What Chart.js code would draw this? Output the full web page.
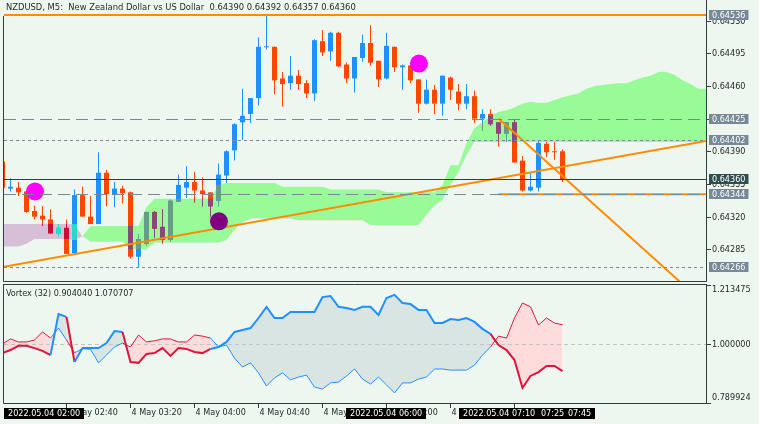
<!DOCTYPE html>
<html><head><meta charset="utf-8">
<script src="https://cdn.jsdelivr.net/npm/chart.js@4.4.0/dist/chart.umd.min.js"></script>
<style>
html,body{margin:0;padding:0;background:#EEF7EF;overflow:hidden;}
#wrap{position:relative;width:759px;height:424px;background:#EEF7EF;}
canvas{position:absolute;left:0;background:#EEF7EF;}
#c1{top:0;}
#c2{top:282px;}
</style></head><body>
<div id="wrap"><canvas id="c1" width="759" height="282"></canvas><canvas id="c2" width="759" height="142"></canvas></div>
<script>
// ---------------- data ----------------
const openP  = [0.64379,0.64350,0.64351,0.64347,0.64326,0.64321,0.64317,0.64302,0.64308,0.64281,
                0.64343,0.64320,0.64312,0.64367,0.64344,0.64350,0.64346,0.64277,0.64291,0.64325,
                0.64309,0.64295,0.64336,0.64351,0.64357,0.64348,0.64346,0.64337,0.64364,0.64391,
                0.64421,0.64430,0.64447,0.64502,0.64502,0.64468,0.64463,0.64471,0.64463,0.64452,
                0.64508,0.64497,0.64517,0.64483,0.64468,0.64490,0.64506,0.64487,0.64468,0.64502,
                0.64480,0.64482,0.64467,0.64441,0.64456,0.64441,0.64469,0.64454,0.64441,0.64449,
                0.64425,0.64430,0.64421,0.64409,0.64421,0.64380,0.64348,0.64351,0.64398,0.64390,
                0.64390];
const highP  = [0.64380,0.64361,0.64357,0.64348,0.64332,0.64331,0.64328,0.64312,0.64317,0.64349,
                0.64352,0.64342,0.64389,0.64370,0.64357,0.64353,0.64347,0.64301,0.64325,0.64326,
                0.64328,0.64338,0.64365,0.64374,0.64368,0.64362,0.64346,0.64377,0.64391,0.64420,
                0.64457,0.64447,0.64512,0.64536,0.64502,0.64475,0.64492,0.64477,0.64466,0.64510,
                0.64520,0.64518,0.64518,0.64485,0.64491,0.64515,0.64525,0.64487,0.64517,0.64502,
                0.64483,0.64483,0.64467,0.64467,0.64461,0.64471,0.64470,0.64462,0.64462,0.64455,
                0.64435,0.64435,0.64421,0.64421,0.64424,0.64385,0.64368,0.64402,0.64400,0.64400,
                0.64392];
const lowP   = [0.64350,0.64347,0.64342,0.64324,0.64317,0.64310,0.64302,0.64299,0.64280,0.64280,
                0.64320,0.64312,0.64312,0.64331,0.64330,0.64334,0.64275,0.64266,0.64289,0.64297,
                0.64291,0.64293,0.64336,0.64340,0.64335,0.64331,0.64320,0.64331,0.64356,0.64380,
                0.64402,0.64420,0.64439,0.64499,0.64451,0.64438,0.64456,0.64456,0.64447,0.64444,
                0.64492,0.64487,0.64480,0.64463,0.64453,0.64486,0.64482,0.64459,0.64467,0.64475,
                0.64456,0.64463,0.64431,0.64440,0.64430,0.64428,0.64445,0.64434,0.64435,0.64420,
                0.64412,0.64417,0.64395,0.64400,0.64378,0.64347,0.64347,0.64347,0.64384,0.64381,
                0.64357];
const closeP = [0.64351,0.64352,0.64346,0.64325,0.64320,0.64317,0.64302,0.64308,0.64280,0.64343,
                0.64320,0.64312,0.64367,0.64344,0.64350,0.64345,0.64277,0.64296,0.64325,0.64307,
                0.64295,0.64337,0.64354,0.64357,0.64348,0.64344,0.64331,0.64365,0.64390,0.64419,
                0.64428,0.64447,0.64502,0.64502,0.64466,0.64462,0.64471,0.64462,0.64452,0.64509,
                0.64496,0.64517,0.64481,0.64468,0.64491,0.64506,0.64485,0.64467,0.64503,0.64480,
                0.64482,0.64466,0.64441,0.64456,0.64441,0.64471,0.64456,0.64441,0.64449,0.64425,
                0.64430,0.64419,0.64409,0.64421,0.64378,0.64348,0.64352,0.64399,0.64389,0.64389,
                0.64360];
// Ichimoku cloud spans (shifted forward, bars 0..88)
const spanA = [0.64288,0.64288,0.64288,0.64291,0.64296,0.64296,0.64296,0.64296,0.64296,0.64295,
               0.64299,0.64310,0.64310,0.64310,0.64310,0.64310,0.64310,0.64310,0.64330,0.64339,
               0.64339,0.64339,0.64339,0.64339,0.64339,0.64339,0.64339,0.64354,0.64356,0.64356,
               0.64356,0.64356,0.64356,0.64356,0.64356,0.64352,0.64352,0.64352,0.64352,0.64352,
               0.64352,0.64349,0.64349,0.64349,0.64349,0.64349,0.64349,0.64349,0.64346,0.64346,
               0.64346,0.64346,0.64346,0.64346,0.64346,0.64354,0.64375,0.64375,0.64399,0.64415,
               0.64421,0.64428,0.64432,0.64434,0.64437,0.64441,0.64443,0.64442,0.64442,0.64445,
               0.64448,0.64450,0.64452,0.64457,0.64460,0.64461,0.64462,0.64463,0.64463,0.64466,
               0.64469,0.64471,0.64475,0.64475,0.64472,0.64466,0.64462,0.64457,0.64457];
const spanB = [0.64312,0.64312,0.64312,0.64312,0.64312,0.64312,0.64312,0.64312,0.64312,0.64312,
               0.64299,0.64293,0.64293,0.64293,0.64293,0.64293,0.64285,0.64285,0.64285,0.64292,
               0.64292,0.64292,0.64292,0.64292,0.64292,0.64292,0.64292,0.64292,0.64295,0.64306,
               0.64314,0.64318,0.64318,0.64318,0.64318,0.64318,0.64318,0.64316,0.64316,0.64316,
               0.64316,0.64316,0.64316,0.64316,0.64316,0.64316,0.64311,0.64311,0.64311,0.64311,
               0.64311,0.64311,0.64311,0.64322,0.64332,0.64338,0.64354,0.64368,0.64386,0.64400,
               0.64400,0.64400,0.64400,0.64400,0.64400,0.64400,0.64400,0.64400,0.64400,0.64400,
               0.64400,0.64400,0.64400,0.64400,0.64400,0.64400,0.64400,0.64400,0.64400,0.64400,
               0.64400,0.64400,0.64400,0.64400,0.64400,0.64400,0.64400,0.64400,0.64400];
// Vortex (32): thick line and thin line
const vortexThick = [0.969,0.980,0.995,0.995,0.987,0.977,0.962,1.109,1.099,0.937,
                     0.987,0.987,0.987,1.005,1.048,1.045,0.937,0.934,0.966,0.969,
                     0.987,0.959,0.987,0.984,0.973,0.969,0.984,0.991,1.009,1.045,
                     1.052,1.059,1.095,1.135,1.095,1.095,1.117,1.117,1.117,1.117,
                     1.170,1.174,1.135,1.131,1.124,1.135,1.135,1.106,1.167,1.178,
                     1.149,1.145,1.124,1.124,1.077,1.077,1.091,1.088,1.095,1.081,
                     1.056,1.038,0.998,0.980,0.944,0.844,0.887,0.901,0.923,0.923,
                     0.904040];
const vortexThin  = [1.002,1.020,1.009,1.009,1.016,1.045,1.023,1.059,1.016,0.970,
                     0.985,0.983,0.934,0.962,0.991,1.005,0.991,1.034,1.009,1.013,
                     1.020,1.020,1.009,1.009,1.034,1.030,1.023,0.991,0.998,0.951,
                     0.919,0.934,0.898,0.851,0.880,0.898,0.873,0.883,0.890,0.847,
                     0.840,0.862,0.865,0.887,0.912,0.876,0.858,0.883,0.855,0.826,
                     0.862,0.862,0.876,0.883,0.912,0.912,0.908,0.908,0.908,0.926,
                     0.962,0.991,1.030,1.023,1.095,1.149,1.135,1.070,1.095,1.077,
                     1.070707];
const priceTicks   = [0.64530,0.64495,0.64460,0.64425,0.64390,0.64355,0.64320,0.64285];
const levelPrices  = [0.64536,0.64425,0.64402,0.64360,0.64344,0.64266];
const trendUp      = [[0,0.64266],[88,0.64401]];
const trendDown    = [[62,0.64425],[86,0.64240]];
const rayLevel     = [[62,0.64344],[88,0.64344]];
const magentaMarks = [[4.06,0.64347],[52.06,0.64484]];
const purpleMarks  = [[27.06,0.64315]];
const vortexTicks  = [1.213475,1.000000,0.789924];
const vortexLevel  = 1.0;
const timeTickBars   = [8,16,24,32,40,48,56,64];
const timeTickLabels = ['4 May 02:40','4 May 03:20','4 May 04:00','4 May 04:40','4 May 05:20','4 May 06:00','4 May 06:40','4 May 07:20'];
const timeBoxBars    = [0,48,69,65.7,62];
const timeBoxLabels  = ['2022.05.04 02:00','2022.05.04 06:00','2022.05.04 07:45','2022.05.04 07:25','2022.05.04 07:10'];
const titleText   = 'NZDUSD, M5:  New Zealand Dollar vs US Dollar  0.64390 0.64392 0.64357 0.64360';
const vortexTitle = 'Vortex (32) 0.904040 1.070707';

// ---------------- styles ----------------
const BG='#EEF7EF';
const FRAME='#2F3F3F', TXT='#1E2424', ORANGE='#FF8C00', GRAY='#778899';
const BULL='#1E90FF', BEAR='#FF4500', VBLUE='#1E90FF', VRED='#DC143C';
const CLOUD_UP='#98FB98', CLOUD_DN='#D8BFD8';
const FAM='"DejaVu Sans Condensed", "Liberation Sans", Arial, sans-serif';
const FONT='9px '+FAM;
const TFONT='9.3px '+FAM;
const levelStyles=[
  {color:ORANGE,width:2,dash:[]},
  {color:GRAY,width:1,dash:[12,6]},
  {color:GRAY,width:1,dash:[3,3]},
  {color:FRAME,width:1,dash:[]},
  {color:GRAY,width:1,dash:[12,6]},
  {color:GRAY,width:1,dash:[3,3]}];
const levelBox=['#778899','#778899','#778899','#2F4F4F','#778899','#778899'];
const XMIN=0.1875, XMAX=87.9375;
const YMIN=0.642510, YMAX=0.645521;
const onePx=(YMAX-YMIN)/281;

const rgb = h => [1,3,5].map(k=>parseInt(h.slice(k,k+2),16));
// the cloud is painted in XOR mode over the candles, like the terminal does
const xorCol = (c,cl) => { const a=rgb(c),b=rgb(cl),g=rgb(BG); return 'rgb('+(a[0]^b[0]^g[0])+','+(a[1]^b[1]^g[1])+','+(a[2]^b[2]^g[2])+')'; };
const baseCol = i => closeP[i]>=openP[i]?BULL:BEAR;
const cloudCol = i => spanA[i]>=spanB[i]?CLOUD_UP:CLOUD_DN;
const inCloud = (lo,hi,i) => { const l=Math.max(lo,Math.min(spanA[i],spanB[i])), h=Math.min(hi,Math.max(spanA[i],spanB[i])); return h>l?[l,h]:null; };

const bodyRange = i => { const o=openP[i],c=closeP[i]; let lo=Math.min(o,c), hi=Math.max(o,c);
  if(hi-lo<onePx){const m=(hi+lo)/2; lo=m-onePx/2; hi=m+onePx/2;} return [lo,hi]; };
const wickData = lowP.map((l,i)=>({x:i,y:[l,highP[i]]}));
const bodyData = openP.map((o,i)=>({x:i,y:bodyRange(i)}));
const wickInData = lowP.map((l,i)=>({x:i,y:inCloud(l,highP[i],i)}));
const bodyInData = openP.map((o,i)=>{const r=bodyRange(i);return {x:i,y:inCloud(r[0],r[1],i)};});
const candleColor = ctx => baseCol(ctx.dataIndex);
const candleInColor = ctx => xorCol(baseCol(ctx.dataIndex), cloudCol(ctx.dataIndex));
const pts = arr => arr.map(p=>({x:p[0],y:p[1]}));

const topDecor={
  id:'topDecor',
  afterDatasetsDraw(chart){
    const {ctx,chartArea:a,scales:{y}}=chart;
    ctx.save();
    ctx.beginPath();ctx.rect(a.left,a.top,a.right-a.left,a.bottom-a.top);ctx.clip();
    levelPrices.forEach((p,i)=>{
      const st=levelStyles[i];
      const py=Math.round(y.getPixelForValue(p))+(st.width%2?0.5:0);
      ctx.strokeStyle=st.color;ctx.lineWidth=st.width;ctx.setLineDash(st.dash);
      ctx.beginPath();ctx.moveTo(a.left,py);ctx.lineTo(a.right,py);ctx.stroke();
    });
    ctx.restore();
  },
  afterDraw(chart){
    const {ctx,chartArea:a,scales:{y}}=chart;
    ctx.save();
    ctx.strokeStyle=FRAME;ctx.lineWidth=1;ctx.setLineDash([]);
    ctx.beginPath();
    ctx.moveTo(a.left-0.5,16);ctx.lineTo(a.left-0.5,a.bottom+0.5);
    ctx.lineTo(a.right+0.5,a.bottom+0.5);ctx.lineTo(a.right+0.5,0);
    ctx.stroke();
    ctx.font=FONT;ctx.textBaseline='middle';ctx.textAlign='left';
    priceTicks.forEach(p=>{
      const py=Math.round(y.getPixelForValue(p))+0.5;
      ctx.beginPath();ctx.moveTo(a.right,py);ctx.lineTo(a.right+5,py);ctx.stroke();
      ctx.fillStyle=TXT;ctx.fillText(p.toFixed(5),a.right+6,py);
    });
    levelPrices.forEach((p,i)=>{
      const py=Math.round(y.getPixelForValue(p));
      const t=p.toFixed(5);const w=ctx.measureText(t).width+6;
      ctx.fillStyle=levelBox[i];ctx.fillRect(a.right+3,py-5,w,10);
      ctx.fillStyle='#FFFFFF';ctx.fillText(t,a.right+6,py+0.5);
    });
    ctx.font=TFONT;
    ctx.fillStyle=TXT;ctx.fillText(titleText,6,8);
    ctx.restore();
  }
};

const vortexDecor={
  id:'vortexDecor',
  beforeDatasetsDraw(chart){
    const {ctx,chartArea:a,scales:{y}}=chart;
    const py=Math.round(y.getPixelForValue(vortexLevel))+0.5;
    ctx.save();ctx.strokeStyle='#C4C4C4';ctx.lineWidth=1;ctx.setLineDash([4,3]);
    ctx.beginPath();ctx.moveTo(a.left,py);ctx.lineTo(a.right,py);ctx.stroke();ctx.restore();
  },
  afterDraw(chart){
    const {ctx,chartArea:a,scales:{x,y}}=chart;
    ctx.save();
    ctx.strokeStyle=FRAME;ctx.lineWidth=1;ctx.setLineDash([]);
    ctx.beginPath();
    ctx.moveTo(a.left-1,a.top-0.5);ctx.lineTo(a.right+0.5,a.top-0.5);
    ctx.moveTo(a.left-0.5,a.top-0.5);ctx.lineTo(a.left-0.5,a.bottom+0.5);ctx.lineTo(a.right+0.5,a.bottom+0.5);
    ctx.moveTo(a.right+0.5,a.top-1);ctx.lineTo(a.right+0.5,a.bottom+1);
    ctx.stroke();
    ctx.font=FONT;ctx.textBaseline='middle';ctx.textAlign='left';ctx.fillStyle=TXT;
    vortexTicks.forEach(v=>{
      const pyr=y.getPixelForValue(v);
      const py=Math.round(pyr)+0.5;
      ctx.beginPath();ctx.moveTo(a.right,py);ctx.lineTo(a.right+5,py);ctx.stroke();
      let ty=py; if(pyr<a.top+6) ty=py+4.5; else if(pyr>a.bottom-6) ty=py-6;
      ctx.fillText(v.toFixed(6),a.right+6,ty);
    });
    ctx.fillText(vortexTitle,6,11.5);
    // time axis
    timeTickBars.forEach((b,i)=>{
      const px=Math.floor(x.getPixelForValue(b))+0.5;
      ctx.beginPath();ctx.moveTo(px,a.bottom);ctx.lineTo(px,a.bottom+5);ctx.stroke();
      ctx.fillText(timeTickLabels[i],px+1,131);
    });
    timeBoxBars.forEach((b,i)=>{
      const t=timeBoxLabels[i];const w=Math.round(ctx.measureText(t).width)+8;
      let bx=Math.round(x.getPixelForValue(b)-w/2); if(bx<a.left) bx=a.left;
      ctx.fillStyle='#000000';ctx.fillRect(bx,126,w,11);
      ctx.fillStyle='#FFFFFF';ctx.fillText(t,bx+4,131.5);
    });
    ctx.restore();
  }
};

new Chart(document.getElementById('c1'),{
  type:'line',
  data:{datasets:[
    {type:'line',data:spanA.map((v,i)=>({x:i,y:v})),borderWidth:0,borderColor:'transparent',pointRadius:0,tension:0,
     fill:{target:'+1',above:CLOUD_UP,below:CLOUD_DN},order:10,clip:0},
    {type:'line',data:spanB.map((v,i)=>({x:i,y:v})),borderWidth:0,borderColor:'transparent',pointRadius:0,tension:0,fill:false,order:10,clip:0},
    {type:'bar',data:wickData,backgroundColor:candleColor,barThickness:1,grouped:false,borderWidth:0,inflateAmount:0,order:4,clip:0},
    {type:'bar',data:bodyData,backgroundColor:candleColor,barThickness:5,grouped:false,borderWidth:0,inflateAmount:0,order:3,clip:0},
    {type:'bar',data:wickInData,backgroundColor:candleInColor,barThickness:1,grouped:false,borderWidth:0,inflateAmount:0,order:2.5,clip:0},
    {type:'bar',data:bodyInData,backgroundColor:candleInColor,barThickness:5,grouped:false,borderWidth:0,inflateAmount:0,order:2,clip:0},
    {type:'line',data:pts(trendUp),borderColor:ORANGE,borderWidth:2,pointRadius:0,fill:false,order:1,clip:0},
    {type:'line',data:pts(trendDown),borderColor:ORANGE,borderWidth:2,pointRadius:0,fill:false,order:1,clip:0},
    {type:'line',data:pts(rayLevel),borderColor:ORANGE,borderWidth:2,pointRadius:0,fill:false,order:1,clip:0},
    {type:'line',data:pts(magentaMarks),showLine:false,pointRadius:9,pointBackgroundColor:'#FF00FF',pointBorderWidth:0,pointBorderColor:'rgba(0,0,0,0)',order:0,clip:0},
    {type:'line',data:pts(purpleMarks),showLine:false,pointRadius:9,pointBackgroundColor:'#800080',pointBorderWidth:0,pointBorderColor:'rgba(0,0,0,0)',order:0,clip:0}
  ]},
  options:{animation:false,responsive:false,devicePixelRatio:1,events:[],
    layout:{autoPadding:false,padding:{left:4,right:53,top:0,bottom:1}},
    scales:{x:{type:'linear',display:false,min:XMIN,max:XMAX,offset:false},
            y:{type:'linear',display:false,min:YMIN,max:YMAX}},
    plugins:{legend:{display:false},tooltip:{enabled:false}}},
  plugins:[topDecor]
});

const segCol = ctx => vortexThick[ctx.p1DataIndex]>=vortexThin[ctx.p1DataIndex]?VBLUE:VRED;
new Chart(document.getElementById('c2'),{
  type:'line',
  data:{datasets:[
    {data:vortexThick.map((v,i)=>({x:i,y:v})),borderWidth:2,borderColor:VBLUE,segment:{borderColor:segCol},pointRadius:0,tension:0,
     fill:{target:1,above:'#D8E5E2',below:'#FFDCDC'},clip:0},
    {data:vortexThin.map((v,i)=>({x:i,y:v})),borderWidth:1,borderColor:VBLUE,segment:{borderColor:segCol},pointRadius:0,tension:0,fill:false,clip:0}
  ]},
  options:{animation:false,responsive:false,devicePixelRatio:1,events:[],
    layout:{autoPadding:false,padding:{left:4,right:53,top:3,bottom:21}},
    scales:{x:{type:'linear',display:false,min:XMIN,max:XMAX,offset:false},
            y:{type:'linear',display:false,min:vortexTicks[2],max:vortexTicks[0]}},
    plugins:{legend:{display:false},tooltip:{enabled:false},filler:{drawTime:'beforeDatasetsDraw'}}},
  plugins:[vortexDecor]
});
</script>
</body></html>
